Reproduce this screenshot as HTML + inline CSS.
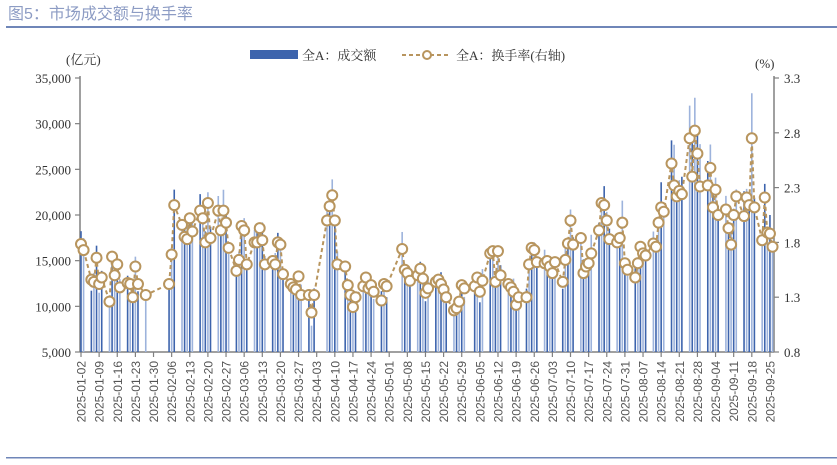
<!DOCTYPE html>
<html><head><meta charset="utf-8">
<style>
html,body{margin:0;padding:0;background:#fff;}
body{width:837px;height:465px;overflow:hidden;position:relative;}
svg{position:absolute;left:0;top:0;}
</style></head>
<body>
<svg id="s" width="837" height="465" viewBox="0 0 837 465" xmlns="http://www.w3.org/2000/svg">
<text x="8" y="19" font-family="Liberation Sans, Noto Sans CJK SC, sans-serif" font-size="16" fill="#8d9cc4">图5：市场成交额与换手率</text>
<rect x="6" y="26" width="831" height="2" fill="#6f86b8"/>
<rect x="6" y="457" width="831" height="1.5" fill="#6f86b8"/>
<rect x="250" y="50" width="48" height="9" fill="#3d64ad"/>
<text x="302" y="60" font-family="Liberation Serif, Noto Serif CJK SC, serif" font-size="13" fill="#333">全A：成交额</text>
<line x1="402" y1="55" x2="451" y2="55" stroke="#b8955e" stroke-width="2" stroke-dasharray="4,3"/>
<circle cx="427" cy="55" r="4" fill="#fff" stroke="#b8955e" stroke-width="2"/>
<text x="456" y="60" font-family="Liberation Serif, Noto Serif CJK SC, serif" font-size="13" fill="#333">全A：换手率(右轴)</text>
<text x="66" y="64" font-family="Liberation Serif, Noto Serif CJK SC, serif" font-size="13" fill="#333">(亿元)</text>
<text x="755" y="68" font-family="Liberation Serif, serif" font-size="13" fill="#333">(%)</text>
<g id="g"></g>
</svg>
<script>
(function(){
var NS="http://www.w3.org/2000/svg",g=document.getElementById('g');
function el(t,a,txt){var e=document.createElementNS(NS,t);for(var k in a)e.setAttribute(k,a[k]);if(txt!=null)e.textContent=txt;g.appendChild(e);return e;}
var X0=81,DX=2.59,Y0=352,YT=78;
function ay(a){return Y0-(a-5000)*274/30000;}
function ty(t){return Y0-(t-0.8)*274/2.5;}
// day index from 2025-01-02
var start=Date.UTC(2025,0,2);
function di(m,d){return Math.round((Date.UTC(2025,m-1,d)-start)/864e5);}
var K=[[1,2,1.785],[1,3,1.73],[1,6,1.46],[1,7,1.44],[1,8,1.66],[1,9,1.42],[1,10,1.48],[1,13,1.26],[1,14,1.67],[1,15,1.5],[1,16,1.6],[1,17,1.39],[1,20,1.43],[1,21,1.42],[1,22,1.30],[1,23,1.58],[1,24,1.42],[1,27,1.32],[2,5,1.42],[2,6,1.69],[2,7,2.14],[2,10,1.96],[2,11,1.85],[2,12,1.83],[2,13,2.02],[2,14,1.9],[2,17,2.09],[2,18,2.02],[2,19,1.8],[2,20,2.16],[2,21,1.84],[2,24,2.09],[2,25,1.91],[2,26,2.09],[2,27,1.98],[2,28,1.75],[3,3,1.54],[3,4,1.64],[3,5,1.95],[3,6,1.91],[3,7,1.6],[3,10,1.8],[3,11,1.8],[3,12,1.93],[3,13,1.82],[3,14,1.6],[3,17,1.63],[3,18,1.6],[3,19,1.8],[3,20,1.78],[3,21,1.51],[3,24,1.42],[3,25,1.39],[3,26,1.37],[3,27,1.49],[3,28,1.32],[3,31,1.32],[4,1,1.16],[4,2,1.32],[4,7,2.0],[4,8,2.13],[4,9,2.23],[4,10,2.0],[4,11,1.6],[4,14,1.58],[4,15,1.41],[4,16,1.32],[4,17,1.21],[4,18,1.3],[4,21,1.4],[4,22,1.48],[4,23,1.38],[4,24,1.41],[4,25,1.35],[4,28,1.27],[4,29,1.42],[4,30,1.4],[5,6,1.74],[5,7,1.55],[5,8,1.52],[5,9,1.45],[5,12,1.5],[5,13,1.56],[5,14,1.47],[5,15,1.34],[5,16,1.38],[5,19,1.44],[5,20,1.46],[5,21,1.42],[5,22,1.37],[5,23,1.3],[5,26,1.18],[5,27,1.2],[5,28,1.26],[5,29,1.41],[5,30,1.38],[6,3,1.4],[6,4,1.48],[6,5,1.35],[6,6,1.45],[6,9,1.70],[6,10,1.72],[6,11,1.44],[6,12,1.72],[6,13,1.5],[6,16,1.42],[6,17,1.39],[6,18,1.35],[6,19,1.23],[6,20,1.3],[6,23,1.30],[6,24,1.60],[6,25,1.75],[6,26,1.73],[6,27,1.62],[6,30,1.61],[7,1,1.63],[7,2,1.58],[7,3,1.52],[7,4,1.62],[7,7,1.44],[7,8,1.64],[7,9,1.79],[7,10,2.0],[7,11,1.78],[7,14,1.84],[7,15,1.52],[7,16,1.58],[7,17,1.61],[7,18,1.7],[7,21,1.91],[7,22,2.16],[7,23,2.14],[7,24,2.0],[7,25,1.83],[7,28,1.80],[7,29,1.84],[7,30,1.98],[7,31,1.61],[8,1,1.55],[8,4,1.48],[8,5,1.61],[8,6,1.76],[8,7,1.70],[8,8,1.68],[8,11,1.79],[8,12,1.76],[8,13,1.98],[8,14,2.12],[8,15,2.08],[8,18,2.52],[8,19,2.32],[8,20,2.22],[8,21,2.27],[8,22,2.24],[8,25,2.75],[8,26,2.40],[8,27,2.82],[8,28,2.61],[8,29,2.31],[9,1,2.32],[9,2,2.48],[9,3,2.12],[9,4,2.28],[9,5,2.05],[9,8,2.10],[9,9,1.93],[9,10,1.78],[9,11,2.05],[9,12,2.22],[9,15,2.04],[9,16,2.21],[9,17,2.14],[9,18,2.75],[9,19,2.12],[9,22,1.82],[9,23,2.21],[9,24,1.89],[9,25,1.88],[9,26,1.76]];
// axes
var gray="#808080";
el('line',{x1:80,y1:YT-2,x2:80,y2:Y0,stroke:gray,'stroke-width':1.5});
el('line',{x1:774,y1:YT-2,x2:774,y2:Y0,stroke:gray,'stroke-width':1.5});
el('line',{x1:80,y1:Y0,x2:774,y2:Y0,stroke:gray,'stroke-width':1.5});
for(var v=5000;v<=35000;v+=5000){var y=ay(v);el('line',{x1:75,y1:y,x2:80,y2:y,stroke:gray,'stroke-width':1.2});
 el('text',{x:71,y:y+5,'text-anchor':'end','font-family':'Liberation Serif, serif','font-size':13,fill:'#333'},v.toLocaleString('en-US'));}
for(var i=0;i<=5;i++){var t=0.8+i*0.5,y=ty(t);el('line',{x1:774,y1:y,x2:779,y2:y,stroke:gray,'stroke-width':1.2});
 el('text',{x:784,y:y+5,'font-family':'Liberation Serif, serif','font-size':13,fill:'#333'},t.toFixed(1));}
for(var d=0;d<=266;d+=7){var x=X0+d*DX;el('line',{x1:x,y1:Y0,x2:x,y2:Y0+5,stroke:gray,'stroke-width':1.2});
 var dt=new Date(start+d*864e5),s=dt.toISOString().slice(0,10);
 el('text',{x:0,y:0,transform:'translate('+(x+4.5)+','+(Y0+9)+') rotate(-90)','text-anchor':'end','font-family':'Liberation Sans, sans-serif','font-size':12,fill:'#555'},s);}
// bars
var pts=[];
for(var i=0;i<K.length;i++){var k=K[i],d=di(k[0],k[1]),x=X0+d*DX,t=k[2];
 var n=Math.sin(i*2.3)*900+Math.cos(i*1.7)*600;
 var a=11000+(t-1.3)*13667+n; if(t>2.3)a+=1500;
 el('line',{x1:x,y1:Y0,x2:x,y2:ay(a),stroke:(i%2?'#9db3dc':'#3d64ad'),'stroke-width':1.6});
 pts.push([x,ty(t)]);}
var p=pts.map(function(q){return q[0].toFixed(1)+','+q[1].toFixed(1);}).join(' ');
el('polyline',{points:p,fill:'none',stroke:'#b8955e','stroke-width':2,'stroke-dasharray':'4,3'});
pts.forEach(function(q){el('circle',{cx:q[0],cy:q[1],r:5,fill:'#fff',stroke:'#b8955e','stroke-width':2});});
})();
</script>
</body></html>
